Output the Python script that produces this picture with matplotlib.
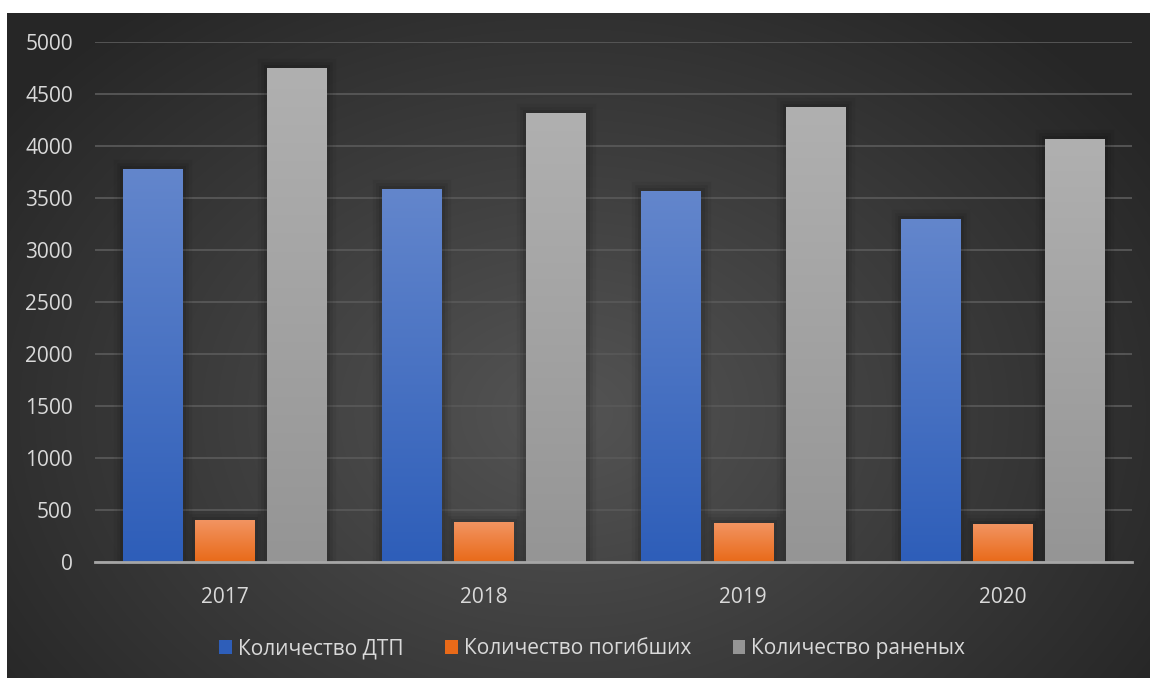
import matplotlib
matplotlib.use('Agg')
import matplotlib.pyplot as plt
import matplotlib.patheffects as pe
from matplotlib.colors import to_rgb
from matplotlib.patches import Patch
import numpy as np

plt.rcParams['font.family'] = ['Open Sans', 'DejaVu Sans']

years = ['2017', '2018', '2019', '2020']
series_names = ['Количество ДТП', 'Количество погибших', 'Количество раненых']
dtp = [3780, 3590, 3570, 3300]
killed = [408, 388, 378, 368]
injured = [4750, 4320, 4380, 4070]

# (top colour, bottom colour) for each series gradient
grads = [('#6386cc', '#2e5eb9'), ('#f29563', '#e96a19'), ('#b0b0b0', '#959595')]
txt_col = '#d9d9d9'

W, H = 1150, 678
fig = plt.figure(figsize=(W/100, H/100), dpi=100)
fig.patch.set_facecolor('white')

# dark radial background panel
bg = fig.add_axes([7/W, 0, 1-7/W, (H-13)/H])
bw, bh = W-7, H-13
yy, xx = np.mgrid[0:bh, 0:bw]
d = np.sqrt(((xx-560)/700.0)**2 + ((yy-400)/520.0)**2)
t = np.clip(d, 0, 1)[..., None]
light = np.array(to_rgb('#545454'))
dark = np.array(to_rgb('#262626'))
img = light*(1-t) + dark*t
bg.imshow(img, aspect='auto', interpolation='bilinear')
bg.axis('off')
bg.set_zorder(-1)

ax = fig.add_axes([95/W, (H-562.3)/H, 1037/W, 520/H])
ax.patch.set_alpha(0)

x = np.arange(len(years))
bw_ = 0.228
step = 0.278
shadow = [pe.Stroke(linewidth=14, foreground='black', alpha=0.05),
          pe.Stroke(linewidth=9, foreground='black', alpha=0.07),
          pe.Stroke(linewidth=5, foreground='black', alpha=0.09),
          pe.Normal()]

for i, (vals, (ctop, cbot)) in enumerate(zip([dtp, killed, injured], grads)):
    bars = ax.bar(x + (i-1)*step, vals, width=bw_, facecolor='none',
                  edgecolor='none', zorder=2)
    c0 = np.array(to_rgb(cbot))
    c1 = np.array(to_rgb(ctop))
    for b in bars:
        b.set_path_effects(shadow)
        x0, y0 = b.get_x(), b.get_y()
        w, h = b.get_width(), b.get_height()
        # each bar fades from the bottom colour up to the top colour
        f = np.linspace(0, 1, 100)[:, None, None]
        grad = c0*(1-f) + c1*f
        im = ax.imshow(grad, extent=[x0, x0+w, y0, y0+h], origin='lower',
                       aspect='auto', zorder=3, interpolation='bilinear')
        im.set_clip_path(b)

ax.set_xlim(-0.5, len(years)-0.5)
ax.set_ylim(0, 5000)
ax.set_yticks(np.arange(0, 5001, 500))
ax.set_xticks(x)
ax.set_xticklabels(years)
ax.grid(axis='y', color='#585858', lw=1.3, zorder=0)
ax.set_axisbelow(True)
for s in ['top', 'right', 'left']:
    ax.spines[s].set_visible(False)
ax.spines['bottom'].set_color('#a6a6a6')
ax.spines['bottom'].set_linewidth(2)
ax.spines['bottom'].set_zorder(4)
ax.tick_params(axis='both', length=0, labelsize=15, labelcolor=txt_col)
ax.tick_params(axis='y', pad=16)
ax.tick_params(axis='x', pad=18)

handles = [Patch(facecolor=g[1], edgecolor='none', label=n) for g, n in zip(grads, series_names)]
leg = fig.legend(handles=handles, loc='center', bbox_to_anchor=(0.515, 0.043), ncol=3,
                 frameon=False, fontsize=15, handlelength=0.6, handleheight=0.6,
                 handletextpad=0.3, columnspacing=2.0)
for tx in leg.get_texts():
    tx.set_color(txt_col)

fig.savefig('out.png', dpi=100, facecolor='white')
